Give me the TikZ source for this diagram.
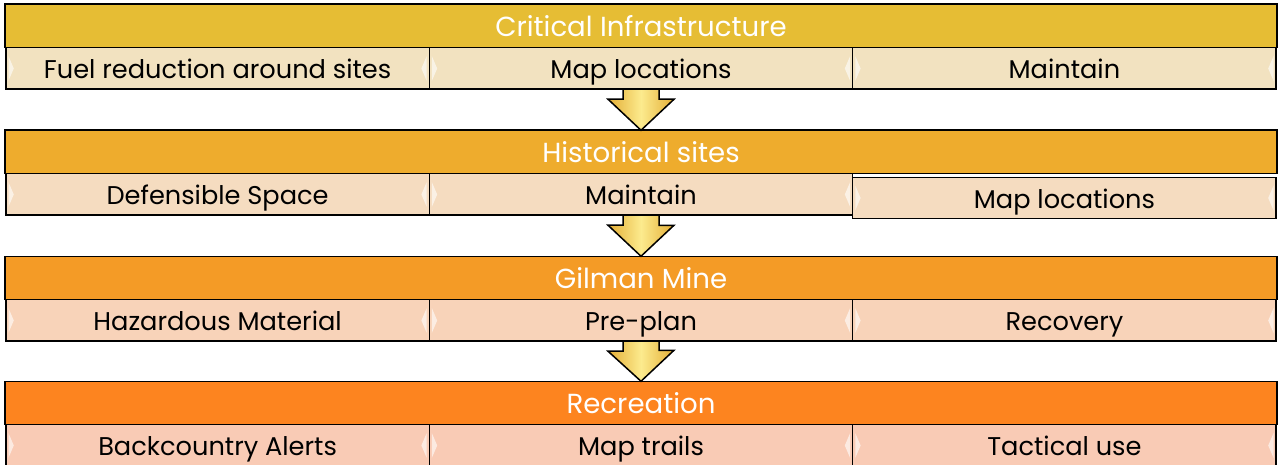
\documentclass[tikz,border=0pt]{standalone}
\usepackage{fontspec}
\setmainfont{Poppins}
\usepackage{tikz}
\usetikzlibrary{calc,positioning}
\definecolor{hdrA}{HTML}{E6BD34}
\definecolor{hdrB}{HTML}{EEAC2D}
\definecolor{hdrC}{HTML}{F49B26}
\definecolor{hdrD}{HTML}{FD841F}
\definecolor{subA}{HTML}{F2E2C0}
\definecolor{subB}{HTML}{F5DCC0}
\definecolor{subC}{HTML}{F8D3B9}
\definecolor{subD}{HTML}{F9CBB5}
\definecolor{arrowgold}{HTML}{E4AE36}
\definecolor{arrowlight}{HTML}{FCEB8E}

\begin{document}
\begin{tikzpicture}[x=0.02cm, y=-0.02cm,
	hdr/.style={draw=black, line width=0.3mm, minimum width=25.44cm, minimum height=0.87cm,
		inner sep=0pt, outer sep=0pt, text=white, font=\fontsize{15.7}{17}\selectfont,
		text height=13pt, text depth=0.7pt},
	sub/.style={draw=black, line width=0.3mm, minimum width=8.47cm, minimum height=0.83cm,
		inner sep=0pt, outer sep=0pt, text=black, font=\fontsize{14.6}{16}\selectfont,
		text height=12.5pt, text depth=0.7pt,
		path picture={
			\fill[white, opacity=0.6] ([xshift=1.5pt, yshift=7pt]path picture bounding box.west)
				-- ++(3pt,-7pt) -- ++(-3pt,-7pt) -- cycle;
			\fill[white, opacity=0.6] ([xshift=-1.5pt, yshift=7pt]path picture bounding box.east)
				-- ++(-3pt,-7pt) -- ++(3pt,-7pt) -- cycle;}},
	bigarrow/.style={draw=black, line width=0.3mm, line join=miter,
		left color=arrowgold, right color=arrowgold, middle color=arrowlight}]
			%%%%% START %%%%%
			
			\useasboundingbox (0, 0) rectangle (1280, 465);
			
			\node[hdr, fill=hdrA] (infra) at (641, 26) {Critical Infrastructure};
			\node[sub, fill=subA, below=0 of infra] (infraMap) {Map locations};
			\node[sub, fill=subA, left=0 of infraMap] (infraFuel) {Fuel reduction around sites};
			\node[sub, fill=subA, right=0 of infraMap] (infraKeep) {Maintain};
			
			\node[hdr, fill=hdrB] (hist) at (641, 152) {Historical sites};
			\node[sub, fill=subB, below=0 of hist] (histKeep) {Maintain};
			\node[sub, fill=subB, left=0 of histKeep] (histSpace) {Defensible Space};
			\node[sub, fill=subB, right=0 of histKeep, yshift=-2] (histMap) {Map locations};
			
			\node[hdr, fill=hdrC] (mine) at (641, 278) {Gilman Mine};
			\node[sub, fill=subC, below=0 of mine] (minePlan) {Pre-plan};
			\node[sub, fill=subC, left=0 of minePlan] (mineHazmat) {Hazardous Material};
			\node[sub, fill=subC, right=0 of minePlan] (mineRecover) {Recovery};
			
			\node[hdr, fill=hdrD] (rec) at (641, 403) {Recreation};
			\node[sub, fill=subD, below=0 of rec] (recTrails) {Map trails};
			\node[sub, fill=subD, left=0 of recTrails] (recAlerts) {Backcountry Alerts};
			\node[sub, fill=subD, right=0 of recTrails] (recTactic) {Tactical use};
			
			% down arrows between the bands
			\draw[bigarrow] (infraMap.south) ++(-18, 0) -- ++(0, 10) -- ++(-15, 0) -- (hist.north)
				-- ++(33, -31) -- ++(-15, 0) |- (infraMap.south) -- cycle;
			\draw[bigarrow] (histKeep.south) ++(-18, 0) -- ++(0, 10) -- ++(-15, 0) -- (mine.north)
				-- ++(33, -31) -- ++(-15, 0) |- (histKeep.south) -- cycle;
			\draw[bigarrow] (minePlan.south) ++(-18, 0) -- ++(0, 10) -- ++(-15, 0) -- (rec.north)
				-- ++(33, -31) -- ++(-15, 0) |- (minePlan.south) -- cycle;
			
			%%%%% END %%%%%
\end{tikzpicture}
\end{document}
